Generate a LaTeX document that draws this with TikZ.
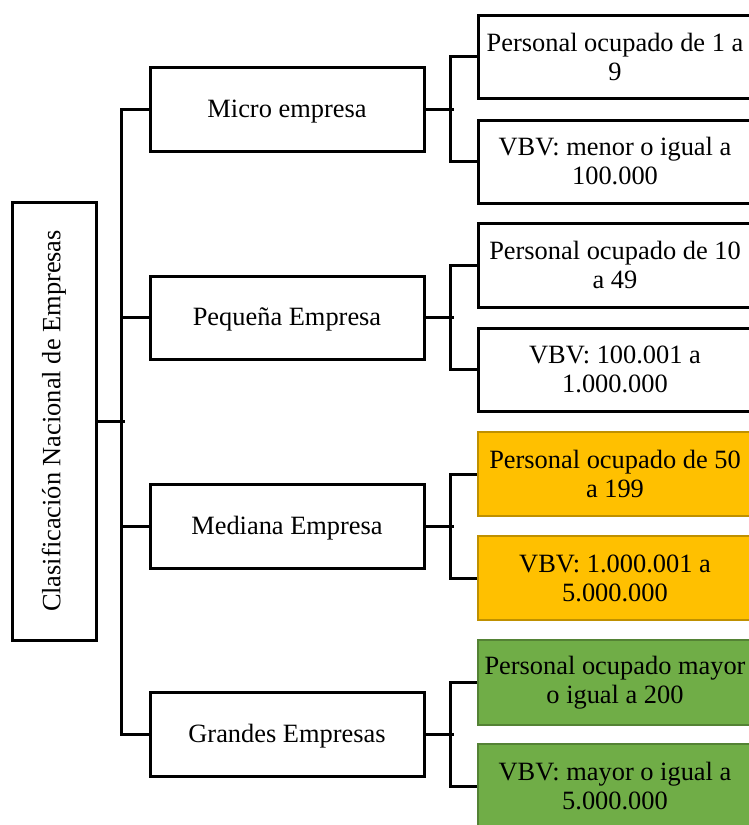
\documentclass[tikz,border=0pt]{standalone}
\usepackage{fontspec}
\setmainfont{Liberation Serif}
\definecolor{orfill}{HTML}{FFC000}
\definecolor{ordraw}{HTML}{BF9000}
\definecolor{grfill}{HTML}{70AD47}
\definecolor{grdraw}{HTML}{548235}
\tikzset{
  box/.style={draw=black, line width=3pt, fill=white, inner sep=0pt, align=center,
    font=\fontsize{26.4}{29}\selectfont},
  lvl/.style={box, minimum width=274pt, minimum height=84pt, text height=21pt, text depth=5pt},
  leaf/.style={box, minimum width=274pt, minimum height=84pt},
  orleaf/.style={leaf, fill=orfill, draw=ordraw, line width=2.2pt},
  grleaf/.style={leaf, fill=grfill, draw=grdraw, line width=2.2pt},
  conn/.style={draw=black, line width=3pt}
}
\begin{document}
\begin{tikzpicture}[x=1pt, y=-1pt]
\useasboundingbox (0,0) rectangle (749,825);
\clip (0,0) rectangle (749,825);

% root
\node[box, minimum width=84pt, minimum height=438pt] (root) at (54,421)
  {\rotatebox{90}{Clasificación Nacional de Empresas}};

% level 1
\node[lvl] (micro) at (287,109) {Micro empresa};
\node[lvl, minimum height=83pt] (peq) at (287,317.5) {Pequeña Empresa};
\node[lvl] (med) at (287,526) {Mediana Empresa};
\node[lvl] (gra) at (287,734) {Grandes Empresas};

% leaves
\node[leaf, minimum height=83pt] (m1) at (615,56.5) {Personal ocupado de 1 a\\9};
\node[leaf, minimum height=83pt] (m2) at (615,161.5) {VBV: menor o igual a\\100.000};
\node[leaf] (p1) at (615,265) {Personal ocupado de 10\\a 49};
\node[leaf, minimum height=83pt] (p2) at (615,369.5) {VBV: 100.001 a\\1.000.000};
\node[orleaf] (d1) at (615,474) {Personal ocupado de 50\\a 199};
\node[orleaf] (d2) at (615,578) {VBV: 1.000.001 a\\5.000.000};
\node[grleaf, minimum height=85pt] (g1) at (615,682.5) {Personal ocupado mayor\\o igual a 200};
\node[grleaf] (g2) at (615,786) {VBV: mayor o igual a\\5.000.000};

% trunk
\path[conn] (root.east) -- ++(27,0);
\path[conn] (micro.west) -- ++(-27,0) |- (gra.west);
\path[conn] (peq.west) -- ++(-27,0);
\path[conn] (med.west) -- ++(-27,0);

% branches
\path[conn] (micro.east) -- ++(28,0);
\path[conn] (m1.west) -- ++(-26,0) |- (m2.west);
\path[conn] (peq.east) -- ++(28,0);
\path[conn] (p1.west) -- ++(-26,0) |- (p2.west);
\path[conn] (med.east) -- ++(28,0);
\path[conn] (d1.west) -- ++(-26,0) |- (d2.west);
\path[conn] (gra.east) -- ++(28,0);
\path[conn] (g1.west) -- ++(-26,0) |- (g2.west);
\end{tikzpicture}
\end{document}
